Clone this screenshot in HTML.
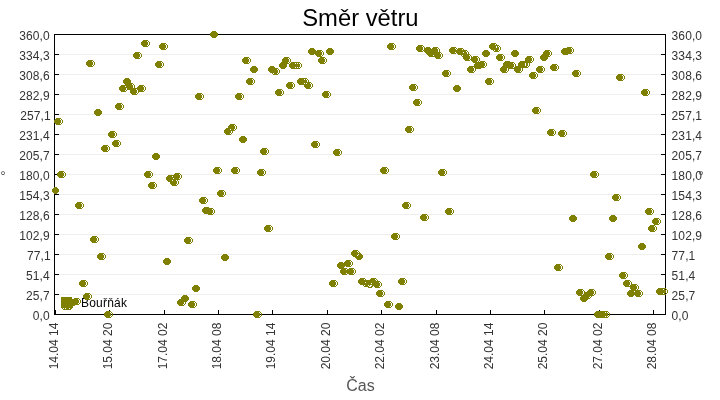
<!DOCTYPE html>
<html lang="cs"><head><meta charset="utf-8"><title>Směr větru</title>
<style>
html,body{margin:0;padding:0;background:#fff}
body{width:720px;height:400px;overflow:hidden;position:relative;font-family:"Liberation Sans",sans-serif}
svg{position:absolute;left:0;top:0;display:block}
text{font-family:"Liberation Sans",sans-serif}
</style></head><body>
<svg width="720" height="400" viewBox="0 0 720 400">
<rect width="720" height="400" fill="#fff"/>
<g shape-rendering="crispEdges">
<path fill="#eeeeee" d="M59 54h602v1h-602zM59 74h602v1h-602zM59 94h602v1h-602zM59 114h602v1h-602zM59 134h602v1h-602zM59 154h602v1h-602zM59 174h602v1h-602zM59 194h602v1h-602zM59 214h602v1h-602zM59 234h602v1h-602zM59 254h602v1h-602zM59 274h602v1h-602zM59 294h602v1h-602z"/>
<path fill="#000" d="M54 34h612v1h-612zM54 314h612v1h-612zM54 34h1v281h-1zM665 34h1v281h-1zM55 54h4v1h-4zM661 54h4v1h-4zM55 74h4v1h-4zM661 74h4v1h-4zM55 94h4v1h-4zM661 94h4v1h-4zM55 114h4v1h-4zM661 114h4v1h-4zM55 134h4v1h-4zM661 134h4v1h-4zM55 154h4v1h-4zM661 154h4v1h-4zM55 174h4v1h-4zM661 174h4v1h-4zM55 194h4v1h-4zM661 194h4v1h-4zM55 214h4v1h-4zM661 214h4v1h-4zM55 234h4v1h-4zM661 234h4v1h-4zM55 254h4v1h-4zM661 254h4v1h-4zM55 274h4v1h-4zM661 274h4v1h-4zM55 294h4v1h-4zM661 294h4v1h-4zM109 310h1v4h-1zM164 310h1v4h-1zM218 310h1v4h-1zM272 310h1v4h-1zM327 310h1v4h-1zM381 310h1v4h-1zM436 310h1v4h-1zM490 310h1v4h-1zM544 310h1v4h-1zM599 310h1v4h-1zM653 310h1v4h-1zM55 310h1v4h-1z"/>
</g>
<text x="81" y="306.5" font-size="12" fill="#000" letter-spacing="0.22">Bouřňák</text>
<path shape-rendering="crispEdges" fill="#808000" d="M212 31h4v1h-4zM211 32h6v1h-6zM210 33h8v1h-8zM210 34h8v1h-8zM210 35h8v1h-8zM211 36h6v1h-6zM212 37h4v1h-4zM143 40h5v1h-5zM142 41h5v1h-5zM148 41h1v1h-1zM141 42h7v1h-7zM149 42h1v1h-1zM141 43h7v1h-7zM149 43h1v1h-1zM161 43h5v1h-5zM389 43h5v1h-5zM491 43h5v1h-5zM141 44h7v1h-7zM149 44h1v1h-1zM160 44h5v1h-5zM166 44h1v1h-1zM388 44h5v1h-5zM394 44h1v1h-1zM490 44h5v1h-5zM496 44h1v1h-1zM142 45h5v1h-5zM148 45h1v1h-1zM159 45h7v1h-7zM167 45h1v1h-1zM387 45h7v1h-7zM395 45h1v1h-1zM418 45h5v1h-5zM489 45h10v1h-10zM143 46h5v1h-5zM159 46h7v1h-7zM167 46h1v1h-1zM387 46h7v1h-7zM395 46h1v1h-1zM417 46h5v1h-5zM423 46h1v1h-1zM489 46h7v1h-7zM497 46h1v1h-1zM499 46h1v1h-1zM159 47h7v1h-7zM167 47h1v1h-1zM387 47h7v1h-7zM395 47h1v1h-1zM416 47h7v1h-7zM424 47h1v1h-1zM426 47h4v1h-4zM433 47h5v1h-5zM451 47h5v1h-5zM489 47h7v1h-7zM497 47h2v1h-2zM500 47h1v1h-1zM567 47h5v1h-5zM160 48h5v1h-5zM166 48h1v1h-1zM310 48h4v1h-4zM328 48h4v1h-4zM388 48h5v1h-5zM394 48h1v1h-1zM416 48h7v1h-7zM424 48h7v1h-7zM432 48h5v1h-5zM438 48h1v1h-1zM450 48h5v1h-5zM456 48h1v1h-1zM458 48h5v1h-5zM490 48h9v1h-9zM500 48h1v1h-1zM563 48h8v1h-8zM572 48h1v1h-1zM161 49h5v1h-5zM309 49h6v1h-6zM327 49h6v1h-6zM389 49h5v1h-5zM416 49h7v1h-7zM424 49h14v1h-14zM439 49h1v1h-1zM449 49h7v1h-7zM457 49h5v1h-5zM463 49h1v1h-1zM491 49h8v1h-8zM500 49h1v1h-1zM562 49h10v1h-10zM573 49h1v1h-1zM308 50h8v1h-8zM317 50h5v1h-5zM326 50h8v1h-8zM417 50h5v1h-5zM423 50h15v1h-15zM439 50h1v1h-1zM449 50h18v1h-18zM484 50h4v1h-4zM493 50h1v1h-1zM495 50h3v1h-3zM499 50h1v1h-1zM513 50h4v1h-4zM545 50h5v1h-5zM561 50h11v1h-11zM573 50h1v1h-1zM308 51h13v1h-13zM322 51h1v1h-1zM326 51h8v1h-8zM418 51h5v1h-5zM424 51h14v1h-14zM439 51h1v1h-1zM449 51h17v1h-17zM467 51h1v1h-1zM483 51h6v1h-6zM494 51h5v1h-5zM512 51h6v1h-6zM544 51h5v1h-5zM550 51h1v1h-1zM561 51h11v1h-11zM573 51h1v1h-1zM135 52h5v1h-5zM308 52h14v1h-14zM323 52h1v1h-1zM326 52h8v1h-8zM425 52h16v1h-16zM450 52h5v1h-5zM456 52h7v1h-7zM464 52h3v1h-3zM468 52h1v1h-1zM482 52h8v1h-8zM511 52h8v1h-8zM543 52h7v1h-7zM551 52h1v1h-1zM561 52h10v1h-10zM572 52h1v1h-1zM134 53h5v1h-5zM140 53h1v1h-1zM309 53h13v1h-13zM323 53h1v1h-1zM327 53h6v1h-6zM426 53h14v1h-14zM441 53h1v1h-1zM451 53h5v1h-5zM457 53h10v1h-10zM468 53h1v1h-1zM482 53h8v1h-8zM511 53h8v1h-8zM543 53h7v1h-7zM551 53h1v1h-1zM562 53h10v1h-10zM133 54h7v1h-7zM141 54h1v1h-1zM310 54h4v1h-4zM315 54h7v1h-7zM323 54h1v1h-1zM328 54h4v1h-4zM427 54h14v1h-14zM442 54h1v1h-1zM458 54h12v1h-12zM482 54h8v1h-8zM498 54h5v1h-5zM511 54h8v1h-8zM542 54h8v1h-8zM551 54h1v1h-1zM563 54h5v1h-5zM133 55h7v1h-7zM141 55h1v1h-1zM316 55h5v1h-5zM322 55h1v1h-1zM428 55h5v1h-5zM434 55h7v1h-7zM442 55h1v1h-1zM461 55h1v1h-1zM463 55h6v1h-6zM470 55h1v1h-1zM483 55h6v1h-6zM497 55h5v1h-5zM503 55h1v1h-1zM512 55h6v1h-6zM541 55h8v1h-8zM550 55h1v1h-1zM133 56h7v1h-7zM141 56h1v1h-1zM317 56h5v1h-5zM429 56h12v1h-12zM442 56h1v1h-1zM462 56h8v1h-8zM471 56h1v1h-1zM473 56h5v1h-5zM484 56h4v1h-4zM496 56h7v1h-7zM504 56h1v1h-1zM513 56h4v1h-4zM527 56h5v1h-5zM540 56h10v1h-10zM134 57h5v1h-5zM140 57h1v1h-1zM244 57h5v1h-5zM284 57h5v1h-5zM320 57h5v1h-5zM435 57h5v1h-5zM441 57h1v1h-1zM463 57h7v1h-7zM471 57h6v1h-6zM478 57h1v1h-1zM496 57h7v1h-7zM504 57h1v1h-1zM526 57h5v1h-5zM532 57h1v1h-1zM540 57h8v1h-8zM135 58h5v1h-5zM243 58h5v1h-5zM249 58h1v1h-1zM283 58h5v1h-5zM289 58h1v1h-1zM319 58h5v1h-5zM325 58h1v1h-1zM436 58h5v1h-5zM463 58h7v1h-7zM471 58h7v1h-7zM479 58h1v1h-1zM496 58h7v1h-7zM504 58h1v1h-1zM525 58h7v1h-7zM533 58h1v1h-1zM540 58h8v1h-8zM242 59h7v1h-7zM250 59h1v1h-1zM282 59h7v1h-7zM290 59h1v1h-1zM318 59h7v1h-7zM326 59h1v1h-1zM464 59h5v1h-5zM470 59h8v1h-8zM479 59h1v1h-1zM497 59h5v1h-5zM503 59h1v1h-1zM525 59h7v1h-7zM533 59h1v1h-1zM541 59h6v1h-6zM88 60h5v1h-5zM242 60h7v1h-7zM250 60h1v1h-1zM282 60h7v1h-7zM290 60h1v1h-1zM318 60h7v1h-7zM326 60h1v1h-1zM465 60h5v1h-5zM471 60h7v1h-7zM479 60h1v1h-1zM498 60h5v1h-5zM525 60h7v1h-7zM533 60h1v1h-1zM542 60h4v1h-4zM87 61h5v1h-5zM93 61h1v1h-1zM157 61h5v1h-5zM242 61h7v1h-7zM250 61h1v1h-1zM282 61h7v1h-7zM290 61h1v1h-1zM318 61h7v1h-7zM326 61h1v1h-1zM472 61h5v1h-5zM478 61h1v1h-1zM480 61h5v1h-5zM505 61h5v1h-5zM520 61h11v1h-11zM532 61h1v1h-1zM86 62h7v1h-7zM94 62h1v1h-1zM156 62h5v1h-5zM162 62h1v1h-1zM243 62h5v1h-5zM249 62h1v1h-1zM281 62h7v1h-7zM289 62h1v1h-1zM291 62h9v1h-9zM319 62h5v1h-5zM325 62h1v1h-1zM473 62h11v1h-11zM485 62h1v1h-1zM504 62h10v1h-10zM519 62h13v1h-13zM86 63h7v1h-7zM94 63h1v1h-1zM155 63h7v1h-7zM163 63h1v1h-1zM244 63h5v1h-5zM280 63h9v1h-9zM290 63h5v1h-5zM296 63h1v1h-1zM298 63h1v1h-1zM300 63h1v1h-1zM320 63h5v1h-5zM475 63h10v1h-10zM486 63h1v1h-1zM503 63h10v1h-10zM514 63h1v1h-1zM518 63h7v1h-7zM526 63h2v1h-2zM529 63h1v1h-1zM86 64h7v1h-7zM94 64h1v1h-1zM155 64h7v1h-7zM163 64h1v1h-1zM279 64h8v1h-8zM289 64h11v1h-11zM301 64h1v1h-1zM474 64h11v1h-11zM486 64h1v1h-1zM503 64h11v1h-11zM515 64h1v1h-1zM518 64h7v1h-7zM526 64h2v1h-2zM529 64h1v1h-1zM552 64h5v1h-5zM87 65h5v1h-5zM93 65h1v1h-1zM155 65h7v1h-7zM163 65h1v1h-1zM279 65h8v1h-8zM289 65h11v1h-11zM301 65h1v1h-1zM474 65h11v1h-11zM486 65h1v1h-1zM503 65h11v1h-11zM515 65h1v1h-1zM518 65h7v1h-7zM526 65h2v1h-2zM529 65h1v1h-1zM551 65h5v1h-5zM557 65h1v1h-1zM88 66h5v1h-5zM156 66h5v1h-5zM162 66h1v1h-1zM252 66h4v1h-4zM270 66h4v1h-4zM279 66h8v1h-8zM289 66h11v1h-11zM301 66h1v1h-1zM469 66h15v1h-15zM485 66h1v1h-1zM502 66h12v1h-12zM515 66h12v1h-12zM528 66h1v1h-1zM538 66h5v1h-5zM550 66h7v1h-7zM558 66h1v1h-1zM157 67h5v1h-5zM251 67h6v1h-6zM269 67h6v1h-6zM280 67h6v1h-6zM290 67h5v1h-5zM296 67h1v1h-1zM298 67h1v1h-1zM300 67h1v1h-1zM468 67h5v1h-5zM474 67h11v1h-11zM501 67h12v1h-12zM514 67h14v1h-14zM537 67h5v1h-5zM543 67h1v1h-1zM550 67h7v1h-7zM558 67h1v1h-1zM250 68h8v1h-8zM268 68h10v1h-10zM281 68h4v1h-4zM291 68h9v1h-9zM467 68h7v1h-7zM475 68h6v1h-6zM500 68h7v1h-7zM508 68h13v1h-13zM522 68h1v1h-1zM536 68h7v1h-7zM544 68h1v1h-1zM550 68h7v1h-7zM558 68h1v1h-1zM250 69h8v1h-8zM268 69h9v1h-9zM278 69h1v1h-1zM467 69h7v1h-7zM475 69h1v1h-1zM500 69h7v1h-7zM508 69h1v1h-1zM514 69h7v1h-7zM522 69h1v1h-1zM536 69h7v1h-7zM544 69h1v1h-1zM551 69h5v1h-5zM557 69h1v1h-1zM250 70h8v1h-8zM268 70h10v1h-10zM279 70h1v1h-1zM444 70h5v1h-5zM467 70h7v1h-7zM475 70h1v1h-1zM500 70h7v1h-7zM508 70h1v1h-1zM514 70h7v1h-7zM522 70h1v1h-1zM536 70h7v1h-7zM544 70h1v1h-1zM552 70h5v1h-5zM574 70h5v1h-5zM251 71h6v1h-6zM269 71h9v1h-9zM279 71h1v1h-1zM443 71h5v1h-5zM449 71h1v1h-1zM468 71h5v1h-5zM474 71h1v1h-1zM501 71h5v1h-5zM507 71h1v1h-1zM515 71h5v1h-5zM521 71h1v1h-1zM537 71h5v1h-5zM543 71h1v1h-1zM573 71h5v1h-5zM579 71h1v1h-1zM252 72h4v1h-4zM270 72h8v1h-8zM279 72h1v1h-1zM442 72h7v1h-7zM450 72h1v1h-1zM469 72h5v1h-5zM502 72h5v1h-5zM516 72h5v1h-5zM531 72h5v1h-5zM538 72h5v1h-5zM572 72h7v1h-7zM580 72h1v1h-1zM272 73h1v1h-1zM274 73h3v1h-3zM278 73h1v1h-1zM442 73h7v1h-7zM450 73h1v1h-1zM530 73h5v1h-5zM536 73h1v1h-1zM572 73h7v1h-7zM580 73h1v1h-1zM273 74h5v1h-5zM442 74h7v1h-7zM450 74h1v1h-1zM529 74h7v1h-7zM537 74h1v1h-1zM572 74h7v1h-7zM580 74h1v1h-1zM618 74h5v1h-5zM443 75h5v1h-5zM449 75h1v1h-1zM529 75h7v1h-7zM537 75h1v1h-1zM573 75h5v1h-5zM579 75h1v1h-1zM617 75h5v1h-5zM623 75h1v1h-1zM444 76h5v1h-5zM529 76h7v1h-7zM537 76h1v1h-1zM574 76h5v1h-5zM616 76h7v1h-7zM624 76h1v1h-1zM530 77h5v1h-5zM536 77h1v1h-1zM616 77h7v1h-7zM624 77h1v1h-1zM125 78h4v1h-4zM248 78h5v1h-5zM299 78h8v1h-8zM487 78h5v1h-5zM531 78h5v1h-5zM616 78h7v1h-7zM624 78h1v1h-1zM124 79h6v1h-6zM247 79h5v1h-5zM253 79h1v1h-1zM298 79h6v1h-6zM305 79h1v1h-1zM307 79h1v1h-1zM486 79h5v1h-5zM492 79h1v1h-1zM617 79h5v1h-5zM623 79h1v1h-1zM123 80h8v1h-8zM246 80h7v1h-7zM254 80h1v1h-1zM297 80h10v1h-10zM308 80h1v1h-1zM485 80h7v1h-7zM493 80h1v1h-1zM618 80h5v1h-5zM123 81h8v1h-8zM246 81h7v1h-7zM254 81h1v1h-1zM297 81h10v1h-10zM308 81h1v1h-1zM485 81h7v1h-7zM493 81h1v1h-1zM123 82h8v1h-8zM246 82h7v1h-7zM254 82h1v1h-1zM288 82h5v1h-5zM297 82h14v1h-14zM485 82h7v1h-7zM493 82h1v1h-1zM124 83h9v1h-9zM247 83h5v1h-5zM253 83h1v1h-1zM287 83h5v1h-5zM293 83h1v1h-1zM298 83h6v1h-6zM305 83h1v1h-1zM307 83h3v1h-3zM311 83h1v1h-1zM486 83h5v1h-5zM492 83h1v1h-1zM125 84h7v1h-7zM133 84h1v1h-1zM248 84h5v1h-5zM286 84h7v1h-7zM294 84h1v1h-1zM299 84h12v1h-12zM312 84h1v1h-1zM411 84h5v1h-5zM487 84h5v1h-5zM121 85h12v1h-12zM134 85h1v1h-1zM139 85h5v1h-5zM286 85h7v1h-7zM294 85h1v1h-1zM304 85h7v1h-7zM312 85h1v1h-1zM410 85h5v1h-5zM416 85h1v1h-1zM455 85h4v1h-4zM120 86h5v1h-5zM126 86h7v1h-7zM134 86h1v1h-1zM138 86h5v1h-5zM144 86h1v1h-1zM286 86h7v1h-7zM294 86h1v1h-1zM304 86h7v1h-7zM312 86h1v1h-1zM409 86h7v1h-7zM417 86h1v1h-1zM454 86h6v1h-6zM119 87h14v1h-14zM134 87h1v1h-1zM137 87h7v1h-7zM145 87h1v1h-1zM287 87h5v1h-5zM293 87h1v1h-1zM305 87h5v1h-5zM311 87h1v1h-1zM409 87h7v1h-7zM417 87h1v1h-1zM453 87h8v1h-8zM119 88h7v1h-7zM127 88h17v1h-17zM145 88h1v1h-1zM288 88h5v1h-5zM306 88h5v1h-5zM409 88h7v1h-7zM417 88h1v1h-1zM453 88h8v1h-8zM119 89h7v1h-7zM127 89h9v1h-9zM137 89h7v1h-7zM145 89h1v1h-1zM277 89h5v1h-5zM410 89h5v1h-5zM416 89h1v1h-1zM453 89h8v1h-8zM643 89h5v1h-5zM120 90h5v1h-5zM126 90h1v1h-1zM130 90h7v1h-7zM138 90h5v1h-5zM144 90h1v1h-1zM276 90h5v1h-5zM282 90h1v1h-1zM411 90h5v1h-5zM454 90h6v1h-6zM642 90h5v1h-5zM648 90h1v1h-1zM121 91h5v1h-5zM130 91h7v1h-7zM138 91h6v1h-6zM275 91h7v1h-7zM283 91h1v1h-1zM324 91h5v1h-5zM455 91h4v1h-4zM641 91h7v1h-7zM649 91h1v1h-1zM130 92h7v1h-7zM138 92h1v1h-1zM275 92h7v1h-7zM283 92h1v1h-1zM323 92h5v1h-5zM329 92h1v1h-1zM641 92h7v1h-7zM649 92h1v1h-1zM131 93h5v1h-5zM137 93h1v1h-1zM197 93h5v1h-5zM237 93h5v1h-5zM275 93h7v1h-7zM283 93h1v1h-1zM322 93h7v1h-7zM330 93h1v1h-1zM641 93h7v1h-7zM649 93h1v1h-1zM132 94h5v1h-5zM196 94h5v1h-5zM202 94h1v1h-1zM236 94h5v1h-5zM242 94h1v1h-1zM276 94h5v1h-5zM282 94h1v1h-1zM322 94h7v1h-7zM330 94h1v1h-1zM642 94h5v1h-5zM648 94h1v1h-1zM195 95h7v1h-7zM203 95h1v1h-1zM235 95h7v1h-7zM243 95h1v1h-1zM277 95h5v1h-5zM322 95h7v1h-7zM330 95h1v1h-1zM643 95h5v1h-5zM195 96h7v1h-7zM203 96h1v1h-1zM235 96h7v1h-7zM243 96h1v1h-1zM323 96h5v1h-5zM329 96h1v1h-1zM195 97h7v1h-7zM203 97h1v1h-1zM235 97h7v1h-7zM243 97h1v1h-1zM324 97h5v1h-5zM196 98h5v1h-5zM202 98h1v1h-1zM236 98h5v1h-5zM242 98h1v1h-1zM197 99h5v1h-5zM237 99h5v1h-5zM415 99h5v1h-5zM414 100h5v1h-5zM420 100h1v1h-1zM413 101h7v1h-7zM421 101h1v1h-1zM413 102h7v1h-7zM421 102h1v1h-1zM117 103h5v1h-5zM413 103h7v1h-7zM421 103h1v1h-1zM116 104h5v1h-5zM122 104h1v1h-1zM414 104h5v1h-5zM420 104h1v1h-1zM115 105h7v1h-7zM123 105h1v1h-1zM415 105h5v1h-5zM115 106h7v1h-7zM123 106h1v1h-1zM115 107h7v1h-7zM123 107h1v1h-1zM534 107h5v1h-5zM116 108h5v1h-5zM122 108h1v1h-1zM533 108h5v1h-5zM539 108h1v1h-1zM96 109h4v1h-4zM117 109h5v1h-5zM532 109h7v1h-7zM540 109h1v1h-1zM95 110h6v1h-6zM532 110h7v1h-7zM540 110h1v1h-1zM94 111h8v1h-8zM532 111h7v1h-7zM540 111h1v1h-1zM94 112h8v1h-8zM533 112h5v1h-5zM539 112h1v1h-1zM94 113h8v1h-8zM534 113h5v1h-5zM95 114h6v1h-6zM96 115h4v1h-4zM56 118h5v1h-5zM55 119h5v1h-5zM61 119h1v1h-1zM54 120h7v1h-7zM62 120h1v1h-1zM54 121h7v1h-7zM62 121h1v1h-1zM54 122h7v1h-7zM62 122h1v1h-1zM55 123h5v1h-5zM61 123h1v1h-1zM56 124h5v1h-5zM230 124h5v1h-5zM229 125h5v1h-5zM235 125h1v1h-1zM228 126h7v1h-7zM236 126h1v1h-1zM407 126h5v1h-5zM228 127h7v1h-7zM236 127h1v1h-1zM406 127h5v1h-5zM412 127h1v1h-1zM226 128h9v1h-9zM236 128h1v1h-1zM405 128h7v1h-7zM413 128h1v1h-1zM225 129h5v1h-5zM231 129h3v1h-3zM235 129h1v1h-1zM405 129h7v1h-7zM413 129h1v1h-1zM549 129h5v1h-5zM224 130h11v1h-11zM405 130h7v1h-7zM413 130h1v1h-1zM548 130h5v1h-5zM554 130h1v1h-1zM560 130h5v1h-5zM110 131h5v1h-5zM224 131h7v1h-7zM232 131h1v1h-1zM406 131h5v1h-5zM412 131h1v1h-1zM547 131h7v1h-7zM555 131h1v1h-1zM559 131h5v1h-5zM565 131h1v1h-1zM109 132h5v1h-5zM115 132h1v1h-1zM224 132h7v1h-7zM232 132h1v1h-1zM407 132h5v1h-5zM547 132h7v1h-7zM555 132h1v1h-1zM558 132h7v1h-7zM566 132h1v1h-1zM108 133h7v1h-7zM116 133h1v1h-1zM225 133h5v1h-5zM231 133h1v1h-1zM547 133h7v1h-7zM555 133h1v1h-1zM558 133h7v1h-7zM566 133h1v1h-1zM108 134h7v1h-7zM116 134h1v1h-1zM226 134h5v1h-5zM548 134h5v1h-5zM554 134h1v1h-1zM558 134h7v1h-7zM566 134h1v1h-1zM108 135h7v1h-7zM116 135h1v1h-1zM549 135h5v1h-5zM559 135h5v1h-5zM565 135h1v1h-1zM109 136h5v1h-5zM115 136h1v1h-1zM241 136h4v1h-4zM560 136h5v1h-5zM110 137h5v1h-5zM240 137h6v1h-6zM239 138h8v1h-8zM239 139h8v1h-8zM114 140h5v1h-5zM239 140h8v1h-8zM113 141h5v1h-5zM119 141h1v1h-1zM240 141h6v1h-6zM313 141h5v1h-5zM112 142h7v1h-7zM120 142h1v1h-1zM241 142h4v1h-4zM312 142h5v1h-5zM318 142h1v1h-1zM112 143h7v1h-7zM120 143h1v1h-1zM311 143h7v1h-7zM319 143h1v1h-1zM112 144h7v1h-7zM120 144h1v1h-1zM311 144h7v1h-7zM319 144h1v1h-1zM103 145h5v1h-5zM113 145h5v1h-5zM119 145h1v1h-1zM311 145h7v1h-7zM319 145h1v1h-1zM102 146h5v1h-5zM108 146h1v1h-1zM114 146h5v1h-5zM312 146h5v1h-5zM318 146h1v1h-1zM101 147h7v1h-7zM109 147h1v1h-1zM313 147h5v1h-5zM101 148h7v1h-7zM109 148h1v1h-1zM262 148h5v1h-5zM101 149h7v1h-7zM109 149h1v1h-1zM261 149h5v1h-5zM267 149h1v1h-1zM335 149h5v1h-5zM102 150h5v1h-5zM108 150h1v1h-1zM260 150h7v1h-7zM268 150h1v1h-1zM334 150h5v1h-5zM340 150h1v1h-1zM103 151h5v1h-5zM260 151h7v1h-7zM268 151h1v1h-1zM333 151h7v1h-7zM341 151h1v1h-1zM260 152h7v1h-7zM268 152h1v1h-1zM333 152h7v1h-7zM341 152h1v1h-1zM154 153h4v1h-4zM261 153h5v1h-5zM267 153h1v1h-1zM333 153h7v1h-7zM341 153h1v1h-1zM153 154h6v1h-6zM262 154h5v1h-5zM334 154h5v1h-5zM340 154h1v1h-1zM152 155h8v1h-8zM335 155h5v1h-5zM152 156h8v1h-8zM152 157h8v1h-8zM153 158h6v1h-6zM154 159h4v1h-4zM215 167h5v1h-5zM233 167h5v1h-5zM382 167h5v1h-5zM214 168h5v1h-5zM220 168h1v1h-1zM232 168h5v1h-5zM238 168h1v1h-1zM381 168h5v1h-5zM387 168h1v1h-1zM213 169h7v1h-7zM221 169h1v1h-1zM231 169h7v1h-7zM239 169h1v1h-1zM259 169h5v1h-5zM380 169h7v1h-7zM388 169h1v1h-1zM440 169h5v1h-5zM213 170h7v1h-7zM221 170h1v1h-1zM231 170h7v1h-7zM239 170h1v1h-1zM258 170h5v1h-5zM264 170h1v1h-1zM380 170h7v1h-7zM388 170h1v1h-1zM439 170h5v1h-5zM445 170h1v1h-1zM59 171h5v1h-5zM146 171h5v1h-5zM213 171h7v1h-7zM221 171h1v1h-1zM231 171h7v1h-7zM239 171h1v1h-1zM257 171h7v1h-7zM265 171h1v1h-1zM380 171h7v1h-7zM388 171h1v1h-1zM438 171h7v1h-7zM446 171h1v1h-1zM592 171h5v1h-5zM58 172h5v1h-5zM64 172h1v1h-1zM145 172h5v1h-5zM151 172h1v1h-1zM214 172h5v1h-5zM220 172h1v1h-1zM232 172h5v1h-5zM238 172h1v1h-1zM257 172h7v1h-7zM265 172h1v1h-1zM381 172h5v1h-5zM387 172h1v1h-1zM438 172h7v1h-7zM446 172h1v1h-1zM591 172h5v1h-5zM597 172h1v1h-1zM57 173h7v1h-7zM65 173h1v1h-1zM144 173h7v1h-7zM152 173h1v1h-1zM175 173h5v1h-5zM215 173h5v1h-5zM233 173h5v1h-5zM257 173h7v1h-7zM265 173h1v1h-1zM382 173h5v1h-5zM438 173h7v1h-7zM446 173h1v1h-1zM590 173h7v1h-7zM598 173h1v1h-1zM57 174h7v1h-7zM65 174h1v1h-1zM144 174h7v1h-7zM152 174h1v1h-1zM174 174h5v1h-5zM180 174h1v1h-1zM258 174h5v1h-5zM264 174h1v1h-1zM439 174h5v1h-5zM445 174h1v1h-1zM590 174h7v1h-7zM598 174h1v1h-1zM57 175h7v1h-7zM65 175h1v1h-1zM144 175h7v1h-7zM152 175h1v1h-1zM168 175h12v1h-12zM181 175h1v1h-1zM259 175h5v1h-5zM440 175h5v1h-5zM590 175h7v1h-7zM598 175h1v1h-1zM58 176h5v1h-5zM64 176h1v1h-1zM145 176h5v1h-5zM151 176h1v1h-1zM167 176h5v1h-5zM173 176h7v1h-7zM181 176h1v1h-1zM591 176h5v1h-5zM597 176h1v1h-1zM59 177h5v1h-5zM146 177h5v1h-5zM166 177h14v1h-14zM181 177h1v1h-1zM592 177h5v1h-5zM166 178h7v1h-7zM174 178h5v1h-5zM180 178h1v1h-1zM166 179h14v1h-14zM167 180h5v1h-5zM173 180h3v1h-3zM177 180h1v1h-1zM168 181h9v1h-9zM178 181h1v1h-1zM150 182h5v1h-5zM170 182h7v1h-7zM178 182h1v1h-1zM149 183h5v1h-5zM155 183h1v1h-1zM170 183h7v1h-7zM178 183h1v1h-1zM148 184h7v1h-7zM156 184h1v1h-1zM171 184h5v1h-5zM177 184h1v1h-1zM148 185h7v1h-7zM156 185h1v1h-1zM172 185h5v1h-5zM148 186h7v1h-7zM156 186h1v1h-1zM54 187h3v1h-3zM149 187h5v1h-5zM155 187h1v1h-1zM53 188h5v1h-5zM150 188h5v1h-5zM52 189h7v1h-7zM52 190h7v1h-7zM219 190h5v1h-5zM52 191h7v1h-7zM218 191h5v1h-5zM224 191h1v1h-1zM53 192h5v1h-5zM217 192h7v1h-7zM225 192h1v1h-1zM54 193h3v1h-3zM217 193h7v1h-7zM225 193h1v1h-1zM217 194h7v1h-7zM225 194h1v1h-1zM614 194h5v1h-5zM218 195h5v1h-5zM224 195h1v1h-1zM613 195h5v1h-5zM619 195h1v1h-1zM219 196h5v1h-5zM612 196h7v1h-7zM620 196h1v1h-1zM201 197h5v1h-5zM612 197h7v1h-7zM620 197h1v1h-1zM200 198h5v1h-5zM206 198h1v1h-1zM612 198h7v1h-7zM620 198h1v1h-1zM199 199h7v1h-7zM207 199h1v1h-1zM613 199h5v1h-5zM619 199h1v1h-1zM199 200h7v1h-7zM207 200h1v1h-1zM614 200h5v1h-5zM199 201h7v1h-7zM207 201h1v1h-1zM77 202h5v1h-5zM200 202h5v1h-5zM206 202h1v1h-1zM404 202h5v1h-5zM76 203h5v1h-5zM82 203h1v1h-1zM201 203h5v1h-5zM403 203h5v1h-5zM409 203h1v1h-1zM75 204h7v1h-7zM83 204h1v1h-1zM402 204h7v1h-7zM410 204h1v1h-1zM75 205h7v1h-7zM83 205h1v1h-1zM402 205h7v1h-7zM410 205h1v1h-1zM75 206h7v1h-7zM83 206h1v1h-1zM402 206h7v1h-7zM410 206h1v1h-1zM76 207h5v1h-5zM82 207h1v1h-1zM204 207h5v1h-5zM403 207h5v1h-5zM409 207h1v1h-1zM77 208h5v1h-5zM203 208h10v1h-10zM404 208h5v1h-5zM447 208h5v1h-5zM647 208h5v1h-5zM202 209h10v1h-10zM213 209h1v1h-1zM446 209h5v1h-5zM452 209h1v1h-1zM646 209h5v1h-5zM652 209h1v1h-1zM202 210h11v1h-11zM214 210h1v1h-1zM445 210h7v1h-7zM453 210h1v1h-1zM645 210h7v1h-7zM653 210h1v1h-1zM202 211h11v1h-11zM214 211h1v1h-1zM445 211h7v1h-7zM453 211h1v1h-1zM645 211h7v1h-7zM653 211h1v1h-1zM203 212h10v1h-10zM214 212h1v1h-1zM445 212h7v1h-7zM453 212h1v1h-1zM645 212h7v1h-7zM653 212h1v1h-1zM204 213h8v1h-8zM213 213h1v1h-1zM446 213h5v1h-5zM452 213h1v1h-1zM646 213h5v1h-5zM652 213h1v1h-1zM208 214h5v1h-5zM422 214h5v1h-5zM447 214h5v1h-5zM647 214h5v1h-5zM421 215h5v1h-5zM427 215h1v1h-1zM571 215h4v1h-4zM611 215h4v1h-4zM420 216h7v1h-7zM428 216h1v1h-1zM570 216h6v1h-6zM610 216h6v1h-6zM420 217h7v1h-7zM428 217h1v1h-1zM569 217h8v1h-8zM609 217h8v1h-8zM420 218h7v1h-7zM428 218h1v1h-1zM569 218h8v1h-8zM609 218h8v1h-8zM654 218h5v1h-5zM421 219h5v1h-5zM427 219h1v1h-1zM569 219h8v1h-8zM609 219h8v1h-8zM653 219h5v1h-5zM659 219h1v1h-1zM422 220h5v1h-5zM570 220h6v1h-6zM610 220h6v1h-6zM652 220h7v1h-7zM660 220h1v1h-1zM571 221h4v1h-4zM611 221h4v1h-4zM652 221h7v1h-7zM660 221h1v1h-1zM652 222h7v1h-7zM660 222h1v1h-1zM653 223h5v1h-5zM659 223h1v1h-1zM654 224h5v1h-5zM266 225h5v1h-5zM650 225h5v1h-5zM265 226h5v1h-5zM271 226h1v1h-1zM649 226h5v1h-5zM655 226h1v1h-1zM264 227h7v1h-7zM272 227h1v1h-1zM648 227h7v1h-7zM656 227h1v1h-1zM264 228h7v1h-7zM272 228h1v1h-1zM648 228h7v1h-7zM656 228h1v1h-1zM264 229h7v1h-7zM272 229h1v1h-1zM648 229h7v1h-7zM656 229h1v1h-1zM265 230h5v1h-5zM271 230h1v1h-1zM649 230h5v1h-5zM655 230h1v1h-1zM266 231h5v1h-5zM650 231h5v1h-5zM393 233h5v1h-5zM392 234h5v1h-5zM398 234h1v1h-1zM391 235h7v1h-7zM399 235h1v1h-1zM92 236h5v1h-5zM391 236h7v1h-7zM399 236h1v1h-1zM91 237h5v1h-5zM97 237h1v1h-1zM186 237h5v1h-5zM391 237h7v1h-7zM399 237h1v1h-1zM90 238h7v1h-7zM98 238h1v1h-1zM185 238h5v1h-5zM191 238h1v1h-1zM392 238h5v1h-5zM398 238h1v1h-1zM90 239h7v1h-7zM98 239h1v1h-1zM184 239h7v1h-7zM192 239h1v1h-1zM393 239h5v1h-5zM90 240h7v1h-7zM98 240h1v1h-1zM184 240h7v1h-7zM192 240h1v1h-1zM91 241h5v1h-5zM97 241h1v1h-1zM184 241h7v1h-7zM192 241h1v1h-1zM92 242h5v1h-5zM185 242h5v1h-5zM191 242h1v1h-1zM186 243h5v1h-5zM640 243h4v1h-4zM639 244h6v1h-6zM638 245h8v1h-8zM638 246h8v1h-8zM638 247h8v1h-8zM639 248h6v1h-6zM640 249h4v1h-4zM353 250h5v1h-5zM352 251h5v1h-5zM358 251h1v1h-1zM351 252h7v1h-7zM359 252h1v1h-1zM99 253h5v1h-5zM351 253h10v1h-10zM607 253h5v1h-5zM98 254h5v1h-5zM104 254h1v1h-1zM223 254h4v1h-4zM351 254h7v1h-7zM359 254h3v1h-3zM606 254h5v1h-5zM612 254h1v1h-1zM97 255h7v1h-7zM105 255h1v1h-1zM222 255h6v1h-6zM352 255h5v1h-5zM358 255h5v1h-5zM605 255h7v1h-7zM613 255h1v1h-1zM97 256h7v1h-7zM105 256h1v1h-1zM221 256h8v1h-8zM353 256h10v1h-10zM605 256h7v1h-7zM613 256h1v1h-1zM97 257h7v1h-7zM105 257h1v1h-1zM221 257h8v1h-8zM355 257h8v1h-8zM605 257h7v1h-7zM613 257h1v1h-1zM98 258h5v1h-5zM104 258h1v1h-1zM165 258h4v1h-4zM221 258h8v1h-8zM356 258h6v1h-6zM606 258h5v1h-5zM612 258h1v1h-1zM99 259h5v1h-5zM164 259h6v1h-6zM222 259h6v1h-6zM357 259h4v1h-4zM607 259h5v1h-5zM163 260h8v1h-8zM223 260h4v1h-4zM346 260h5v1h-5zM163 261h8v1h-8zM345 261h5v1h-5zM351 261h1v1h-1zM163 262h8v1h-8zM339 262h4v1h-4zM344 262h7v1h-7zM352 262h1v1h-1zM164 263h6v1h-6zM338 263h13v1h-13zM352 263h1v1h-1zM165 264h4v1h-4zM337 264h14v1h-14zM352 264h1v1h-1zM556 264h5v1h-5zM337 265h13v1h-13zM351 265h1v1h-1zM555 265h5v1h-5zM561 265h1v1h-1zM337 266h8v1h-8zM346 266h5v1h-5zM554 266h7v1h-7zM562 266h1v1h-1zM338 267h6v1h-6zM554 267h7v1h-7zM562 267h1v1h-1zM339 268h8v1h-8zM349 268h5v1h-5zM554 268h7v1h-7zM562 268h1v1h-1zM341 269h5v1h-5zM347 269h6v1h-6zM354 269h1v1h-1zM555 269h5v1h-5zM561 269h1v1h-1zM340 270h14v1h-14zM355 270h1v1h-1zM556 270h5v1h-5zM340 271h14v1h-14zM355 271h1v1h-1zM340 272h14v1h-14zM355 272h1v1h-1zM621 272h5v1h-5zM341 273h5v1h-5zM347 273h6v1h-6zM354 273h1v1h-1zM620 273h5v1h-5zM626 273h1v1h-1zM342 274h5v1h-5zM349 274h5v1h-5zM619 274h7v1h-7zM627 274h1v1h-1zM619 275h7v1h-7zM627 275h1v1h-1zM619 276h7v1h-7zM627 276h1v1h-1zM620 277h5v1h-5zM626 277h1v1h-1zM360 278h5v1h-5zM371 278h5v1h-5zM400 278h5v1h-5zM621 278h5v1h-5zM359 279h5v1h-5zM365 279h1v1h-1zM370 279h5v1h-5zM376 279h1v1h-1zM399 279h5v1h-5zM405 279h1v1h-1zM81 280h5v1h-5zM331 280h5v1h-5zM358 280h18v1h-18zM377 280h1v1h-1zM398 280h7v1h-7zM406 280h1v1h-1zM625 280h5v1h-5zM80 281h5v1h-5zM86 281h1v1h-1zM330 281h5v1h-5zM336 281h1v1h-1zM358 281h22v1h-22zM398 281h7v1h-7zM406 281h1v1h-1zM624 281h5v1h-5zM630 281h1v1h-1zM79 282h7v1h-7zM87 282h1v1h-1zM329 282h7v1h-7zM337 282h1v1h-1zM358 282h7v1h-7zM366 282h13v1h-13zM380 282h1v1h-1zM398 282h7v1h-7zM406 282h1v1h-1zM623 282h7v1h-7zM631 282h1v1h-1zM79 283h7v1h-7zM87 283h1v1h-1zM329 283h7v1h-7zM337 283h1v1h-1zM359 283h12v1h-12zM372 283h8v1h-8zM381 283h1v1h-1zM399 283h5v1h-5zM405 283h1v1h-1zM623 283h7v1h-7zM631 283h1v1h-1zM79 284h7v1h-7zM87 284h1v1h-1zM329 284h7v1h-7zM337 284h1v1h-1zM360 284h20v1h-20zM381 284h1v1h-1zM400 284h5v1h-5zM623 284h7v1h-7zM631 284h6v1h-6zM80 285h5v1h-5zM86 285h1v1h-1zM194 285h4v1h-4zM330 285h5v1h-5zM336 285h1v1h-1zM363 285h1v1h-1zM365 285h3v1h-3zM369 285h1v1h-1zM372 285h8v1h-8zM381 285h1v1h-1zM624 285h5v1h-5zM630 285h6v1h-6zM637 285h1v1h-1zM81 286h5v1h-5zM193 286h6v1h-6zM331 286h5v1h-5zM364 286h5v1h-5zM371 286h2v1h-2zM374 286h5v1h-5zM380 286h1v1h-1zM625 286h12v1h-12zM638 286h1v1h-1zM192 287h8v1h-8zM368 287h4v1h-4zM375 287h5v1h-5zM630 287h7v1h-7zM638 287h1v1h-1zM192 288h8v1h-8zM630 288h7v1h-7zM638 288h1v1h-1zM658 288h8v1h-8zM192 289h8v1h-8zM578 289h5v1h-5zM589 289h5v1h-5zM631 289h5v1h-5zM637 289h1v1h-1zM657 289h6v1h-6zM664 289h1v1h-1zM666 289h1v1h-1zM193 290h6v1h-6zM378 290h5v1h-5zM577 290h5v1h-5zM583 290h1v1h-1zM588 290h5v1h-5zM594 290h1v1h-1zM629 290h12v1h-12zM656 290h10v1h-10zM667 290h1v1h-1zM194 291h4v1h-4zM377 291h5v1h-5zM383 291h1v1h-1zM576 291h7v1h-7zM584 291h1v1h-1zM587 291h7v1h-7zM595 291h1v1h-1zM628 291h6v1h-6zM635 291h5v1h-5zM641 291h1v1h-1zM656 291h10v1h-10zM667 291h1v1h-1zM376 292h7v1h-7zM384 292h1v1h-1zM576 292h7v1h-7zM584 292h10v1h-10zM595 292h1v1h-1zM627 292h14v1h-14zM642 292h1v1h-1zM656 292h10v1h-10zM667 292h1v1h-1zM85 293h5v1h-5zM376 293h7v1h-7zM384 293h1v1h-1zM576 293h7v1h-7zM584 293h10v1h-10zM595 293h1v1h-1zM627 293h14v1h-14zM642 293h1v1h-1zM657 293h6v1h-6zM664 293h1v1h-1zM666 293h1v1h-1zM84 294h5v1h-5zM90 294h1v1h-1zM376 294h7v1h-7zM384 294h1v1h-1zM577 294h5v1h-5zM583 294h10v1h-10zM594 294h1v1h-1zM627 294h14v1h-14zM642 294h1v1h-1zM658 294h8v1h-8zM83 295h7v1h-7zM91 295h1v1h-1zM183 295h4v1h-4zM377 295h5v1h-5zM383 295h1v1h-1zM578 295h16v1h-16zM628 295h6v1h-6zM635 295h5v1h-5zM641 295h1v1h-1zM83 296h7v1h-7zM91 296h1v1h-1zM182 296h6v1h-6zM378 296h5v1h-5zM581 296h9v1h-9zM591 296h1v1h-1zM629 296h4v1h-4zM636 296h5v1h-5zM61 297h11v1h-11zM83 297h7v1h-7zM91 297h1v1h-1zM181 297h8v1h-8zM580 297h9v1h-9zM590 297h1v1h-1zM61 298h11v1h-11zM74 298h5v1h-5zM84 298h5v1h-5zM90 298h1v1h-1zM181 298h8v1h-8zM580 298h10v1h-10zM61 299h17v1h-17zM79 299h1v1h-1zM85 299h5v1h-5zM179 299h10v1h-10zM580 299h8v1h-8zM61 300h18v1h-18zM80 300h1v1h-1zM178 300h10v1h-10zM581 300h6v1h-6zM61 301h18v1h-18zM80 301h1v1h-1zM177 301h10v1h-10zM190 301h5v1h-5zM386 301h5v1h-5zM582 301h4v1h-4zM61 302h18v1h-18zM80 302h1v1h-1zM177 302h7v1h-7zM185 302h1v1h-1zM189 302h5v1h-5zM195 302h1v1h-1zM385 302h5v1h-5zM391 302h1v1h-1zM61 303h17v1h-17zM79 303h1v1h-1zM177 303h7v1h-7zM185 303h1v1h-1zM188 303h7v1h-7zM196 303h1v1h-1zM384 303h7v1h-7zM392 303h1v1h-1zM397 303h4v1h-4zM61 304h18v1h-18zM178 304h5v1h-5zM184 304h1v1h-1zM188 304h7v1h-7zM196 304h1v1h-1zM384 304h7v1h-7zM392 304h1v1h-1zM396 304h6v1h-6zM61 305h14v1h-14zM179 305h5v1h-5zM188 305h7v1h-7zM196 305h1v1h-1zM384 305h7v1h-7zM392 305h1v1h-1zM395 305h8v1h-8zM61 306h12v1h-12zM189 306h5v1h-5zM195 306h1v1h-1zM385 306h5v1h-5zM391 306h1v1h-1zM395 306h8v1h-8zM61 307h12v1h-12zM190 307h5v1h-5zM386 307h5v1h-5zM395 307h8v1h-8zM62 308h1v1h-1zM64 308h1v1h-1zM66 308h3v1h-3zM70 308h2v1h-2zM396 308h6v1h-6zM63 309h8v1h-8zM397 309h4v1h-4zM106 311h5v1h-5zM255 311h5v1h-5zM596 311h12v1h-12zM105 312h5v1h-5zM111 312h1v1h-1zM254 312h5v1h-5zM260 312h1v1h-1zM595 312h10v1h-10zM606 312h1v1h-1zM608 312h1v1h-1zM104 313h7v1h-7zM112 313h1v1h-1zM253 313h7v1h-7zM261 313h1v1h-1zM594 313h14v1h-14zM609 313h1v1h-1zM104 314h7v1h-7zM112 314h1v1h-1zM253 314h7v1h-7zM261 314h1v1h-1zM594 314h14v1h-14zM609 314h1v1h-1zM104 315h7v1h-7zM112 315h1v1h-1zM253 315h7v1h-7zM261 315h1v1h-1zM594 315h14v1h-14zM609 315h1v1h-1zM105 316h5v1h-5zM111 316h1v1h-1zM254 316h5v1h-5zM260 316h1v1h-1zM595 316h10v1h-10zM606 316h1v1h-1zM608 316h1v1h-1zM106 317h5v1h-5zM255 317h5v1h-5zM596 317h12v1h-12z"/>
<text x="360.4" y="26" font-size="23.8" text-anchor="middle" fill="#000">Směr větru</text>
<text x="360.5" y="391" font-size="16" text-anchor="middle" fill="#555">Čas</text>
<g font-size="12" fill="#333" letter-spacing="0.1">
<text x="49.7" y="40" text-anchor="end">360,0</text>
<text x="671.6" y="40" letter-spacing="0.1">360,0</text>
<text x="49.7" y="60" text-anchor="end">334,3</text>
<text x="671.6" y="60" letter-spacing="0.1">334,3</text>
<text x="49.7" y="80" text-anchor="end">308,6</text>
<text x="671.6" y="80" letter-spacing="0.1">308,6</text>
<text x="49.7" y="100" text-anchor="end">282,9</text>
<text x="671.6" y="100" letter-spacing="0.1">282,9</text>
<text x="50.8" y="120" text-anchor="end">257,1</text>
<text x="671.6" y="120" letter-spacing="0.1">257,1</text>
<text x="49.7" y="140" text-anchor="end">231,4</text>
<text x="671.6" y="140" letter-spacing="0.1">231,4</text>
<text x="49.7" y="160" text-anchor="end">205,7</text>
<text x="671.6" y="160" letter-spacing="0.1">205,7</text>
<text x="49.7" y="180" text-anchor="end">180,0</text>
<text x="671.6" y="180" letter-spacing="0.1">180,0</text>
<text x="49.7" y="200" text-anchor="end">154,3</text>
<text x="671.6" y="200" letter-spacing="0.1">154,3</text>
<text x="49.7" y="220" text-anchor="end">128,6</text>
<text x="671.6" y="220" letter-spacing="0.1">128,6</text>
<text x="49.7" y="240" text-anchor="end">102,9</text>
<text x="671.6" y="240" letter-spacing="0.1">102,9</text>
<text x="50.8" y="260" text-anchor="end">77,1</text>
<text x="671.6" y="260" letter-spacing="0.1">77,1</text>
<text x="49.7" y="280" text-anchor="end">51,4</text>
<text x="671.6" y="280" letter-spacing="0.1">51,4</text>
<text x="49.7" y="300" text-anchor="end">25,7</text>
<text x="671.6" y="300" letter-spacing="0.1">25,7</text>
<text x="49.7" y="320" text-anchor="end">0,0</text>
<text x="671.6" y="320" letter-spacing="0.1">0,0</text>
<text transform="translate(58.1 322.6) rotate(-90)" text-anchor="end" letter-spacing="0">14.04 14</text>
<text transform="translate(112.2 322.6) rotate(-90)" text-anchor="end" letter-spacing="0">15.04 20</text>
<text transform="translate(167.2 322.6) rotate(-90)" text-anchor="end" letter-spacing="0">17.04 02</text>
<text transform="translate(221.2 322.6) rotate(-90)" text-anchor="end" letter-spacing="0">18.04 08</text>
<text transform="translate(275.2 322.6) rotate(-90)" text-anchor="end" letter-spacing="0">19.04 14</text>
<text transform="translate(330.2 322.6) rotate(-90)" text-anchor="end" letter-spacing="0">20.04 20</text>
<text transform="translate(384.2 322.6) rotate(-90)" text-anchor="end" letter-spacing="0">22.04 02</text>
<text transform="translate(439.2 322.6) rotate(-90)" text-anchor="end" letter-spacing="0">23.04 08</text>
<text transform="translate(493.2 322.6) rotate(-90)" text-anchor="end" letter-spacing="0">24.04 14</text>
<text transform="translate(547.2 322.6) rotate(-90)" text-anchor="end" letter-spacing="0">25.04 20</text>
<text transform="translate(602.2 322.6) rotate(-90)" text-anchor="end" letter-spacing="0">27.04 02</text>
<text transform="translate(656.2 322.6) rotate(-90)" text-anchor="end" letter-spacing="0">28.04 08</text>
</g>
<text transform="translate(9.6 172.95) rotate(-90)" text-anchor="middle" font-size="13.5" fill="#444">°</text>
<text transform="translate(707.6 172.95) rotate(-90)" text-anchor="middle" font-size="13.5" fill="#444">°</text>
</svg></body></html>
